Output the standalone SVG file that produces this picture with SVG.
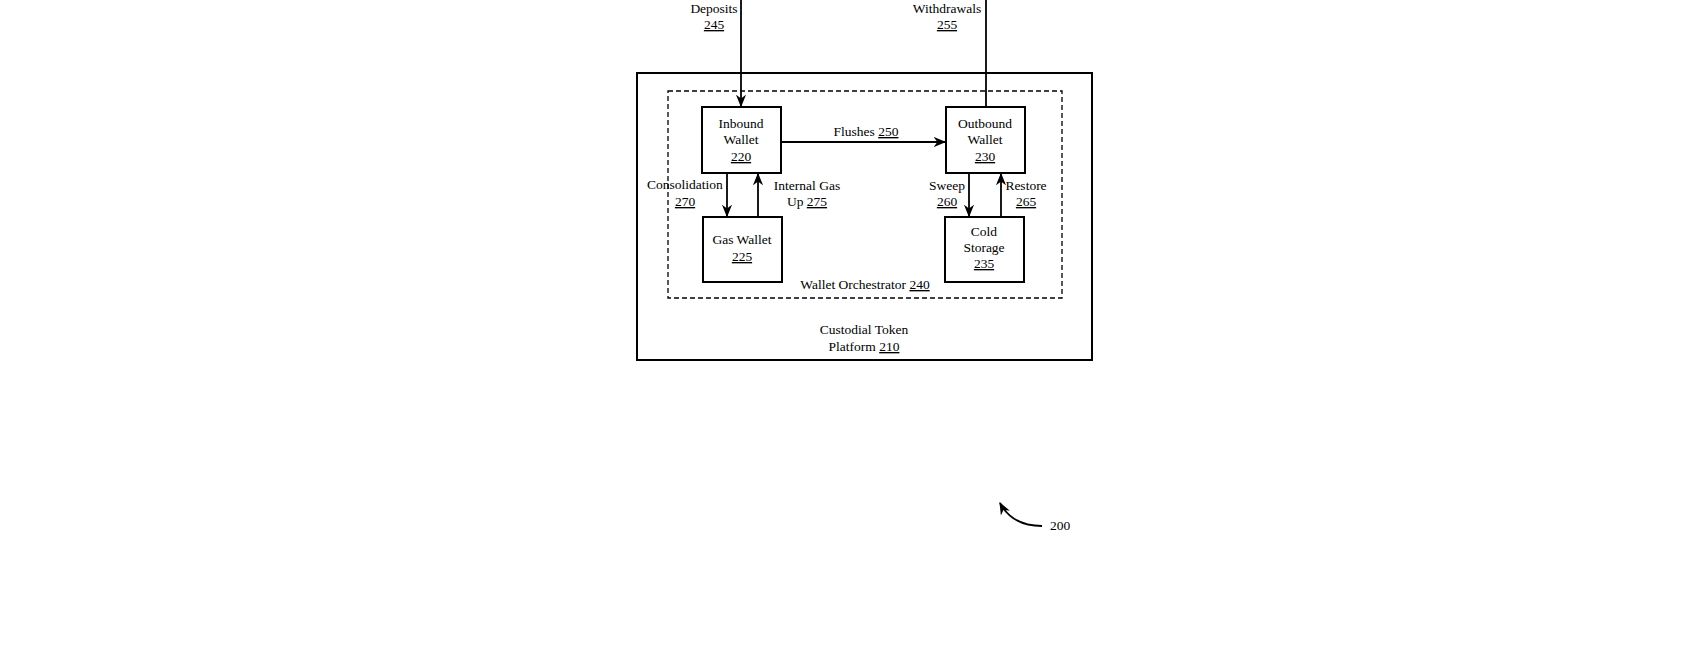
<svg xmlns="http://www.w3.org/2000/svg" width="1700" height="650" viewBox="0 0 1700 650">
<style>
text{font-family:"Liberation Serif",serif;font-size:13.5px;fill:#000;text-anchor:middle}
.b{fill:#fff;stroke:#000;stroke-width:2}
.c{stroke:#000;stroke-width:1.8;fill:none}
u{}
</style>
<defs><marker id="a" viewBox="0 0 10 10" refX="9" refY="5" markerWidth="7" markerHeight="7" orient="auto"><path d="M0,1 L10,5 L0,9 L3,5 z" fill="#000"/></marker></defs>
<rect width="1700" height="650" fill="#fff"/>
<g id="platform"><rect x="637" y="73" width="455" height="287" class="b"/><text x="864" y="334">Custodial Token</text><text x="864" y="351">Platform <tspan text-decoration="underline">210</tspan></text></g>
<g id="orchestrator"><rect x="668" y="91" width="394" height="207" fill="none" stroke="#000" stroke-width="1.3" stroke-dasharray="5,3"/><text x="865" y="289">Wallet Orchestrator <tspan text-decoration="underline">240</tspan></text></g>
<g id="inbound"><rect x="702" y="107" width="79" height="66" class="b"/><text x="741" y="128">Inbound</text><text x="741" y="144">Wallet</text><text x="741" y="161" text-decoration="underline">220</text></g>
<g id="outbound"><rect x="946" y="107" width="79" height="66" class="b"/><text x="985" y="128">Outbound</text><text x="985" y="144">Wallet</text><text x="985" y="161" text-decoration="underline">230</text></g>
<g id="gas"><rect x="703" y="217" width="79" height="65" class="b"/><text x="742" y="244">Gas Wallet</text><text x="742" y="261" text-decoration="underline">225</text></g>
<g id="cold"><rect x="945" y="217" width="79" height="65" class="b"/><text x="984" y="236">Cold</text><text x="984" y="252">Storage</text><text x="984" y="268" text-decoration="underline">235</text></g>
<g id="connectors">
<line x1="741" y1="0" x2="741" y2="106" class="c" marker-end="url(#a)"/>
<line x1="986" y1="0" x2="986" y2="107" class="c"/>
<line x1="781" y1="142" x2="945" y2="142" class="c" marker-end="url(#a)"/>
<line x1="727" y1="173" x2="727" y2="216" class="c" marker-end="url(#a)"/>
<line x1="758" y1="217" x2="758" y2="174" class="c" marker-end="url(#a)"/>
<line x1="969" y1="173" x2="969" y2="216" class="c" marker-end="url(#a)"/>
<line x1="1001" y1="217" x2="1001" y2="174" class="c" marker-end="url(#a)"/>
<path d="M1042,526 C1022,526 1008,518 1000,503" class="c" stroke-width="1.5" marker-end="url(#a)"/>
</g>
<text x="714" y="13">Deposits</text><text x="714" y="29" text-decoration="underline">245</text>
<text x="947" y="13">Withdrawals</text><text x="947" y="29" text-decoration="underline">255</text>
<text x="866" y="136">Flushes <tspan text-decoration="underline">250</tspan></text>
<text x="685" y="189">Consolidation</text><text x="685" y="206" text-decoration="underline">270</text>
<text x="807" y="190">Internal Gas</text><text x="807" y="206">Up <tspan text-decoration="underline">275</tspan></text>
<text x="947" y="190">Sweep</text><text x="947" y="206" text-decoration="underline">260</text>
<text x="1026" y="190">Restore</text><text x="1026" y="206" text-decoration="underline">265</text>
<text x="1060" y="530" font-size="15">200</text>
</svg>
